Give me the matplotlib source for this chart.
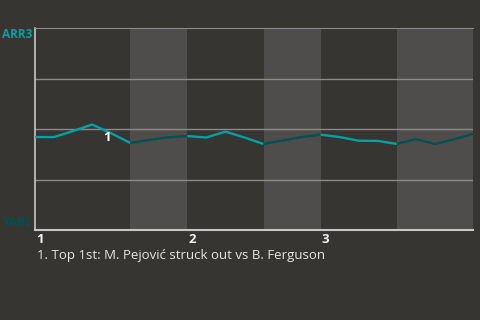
import matplotlib.pyplot as plt
import matplotlib.transforms as mtransforms
import numpy as np

# win probability for ARR3 (%), one value per plate appearance
PA = np.arange(24)
WIN_PCT = [46.0, 46.0, 49.0, 52.2, 47.9, 43.1, 44.6, 45.9, 46.5, 45.8, 48.7, 45.8,
           42.6, 44.3, 46.0, 47.2, 46.0, 44.2, 44.1, 42.6, 45.0, 42.6, 44.9, 47.5]
# half-inning boundaries in plate appearances
HALF_STARTS = [0, 5, 8, 12, 15, 19]
HALF_ENDS = [5, 8, 12, 15, 19, 23]
INNING_STARTS = [0, 8, 15]
INNING_LABELS = ["1", "2", "3"]
EVENT_X = [3.8]
EVENT_Y = [46.0]
EVENT_LABELS = ["1"]
TEAM_TOP = "ARR3"
TEAM_BOTTOM = "YAB3"
CAPTION = "1. Top 1st: M. Pejović struck out vs B. Ferguson"

BG = "#373531"
SHADE = "#4f4d4b"
AWAY = "#00a3a3"
HOME = "#005152"

plt.rcParams["font.family"] = ["Open Sans", "DejaVu Sans"]
fig = plt.figure(figsize=(4.8, 3.2), dpi=100, facecolor=BG)
ax = fig.add_axes([35 / 480, 90 / 320, 438 / 480, 202 / 320])
ax.set_facecolor(BG)
ax.set_xlim(0, 23)
ax.set_ylim(0, 100)

for i, (s, e) in enumerate(zip(HALF_STARTS, HALF_ENDS)):
    if i % 2 == 1:
        ax.axvspan(s, e, color=SHADE, lw=0, zorder=0)
    seg = slice(s, e + 1)
    ax.plot(PA[seg], WIN_PCT[seg], color=AWAY if i % 2 == 0 else HOME,
            lw=1.7, zorder=3, solid_capstyle="butt")

for v in [25, 50, 75]:
    ax.axhline(v, color="#8c8b89", lw=1, zorder=1)

ax.spines["right"].set_visible(False)
ax.spines["top"].set_color("#8c8b89")
ax.spines["left"].set_color("#c8c7c5")
ax.spines["bottom"].set_color("#c8c7c5")
ax.spines["left"].set_linewidth(1.2)
ax.spines["bottom"].set_linewidth(1.5)
ax.set_xticks([])
ax.set_yticks([])

for x, y, lab in zip(EVENT_X, EVENT_Y, EVENT_LABELS):
    ax.text(x, y, lab, color="white", fontsize=9.5, fontweight="bold",
            ha="center", va="center", zorder=4)

offset = mtransforms.ScaledTranslation(1 / 100, 0, fig.dpi_scale_trans)
trans = mtransforms.blended_transform_factory(ax.transData, ax.transAxes) + offset
for x, lab in zip(INNING_STARTS, INNING_LABELS):
    ax.text(x, -0.045, lab, transform=trans, color="#f0f0f0", fontsize=9.5,
            fontweight="bold", ha="left", va="center")

fig.text(2 / 480, 1 - 35 / 320, TEAM_TOP, color=AWAY, fontsize=8.5,
         fontweight="bold", ha="left", va="center")
fig.text(2 / 480, 1 - 222 / 320, TEAM_BOTTOM, color=HOME, fontsize=8.5,
         fontweight="bold", ha="left", va="center")
fig.text(37 / 480, 1 - 255 / 320, CAPTION, color="#e6e6e6", fontsize=9.5,
         ha="left", va="center")

fig.savefig("out.png", dpi=100, facecolor=BG)
